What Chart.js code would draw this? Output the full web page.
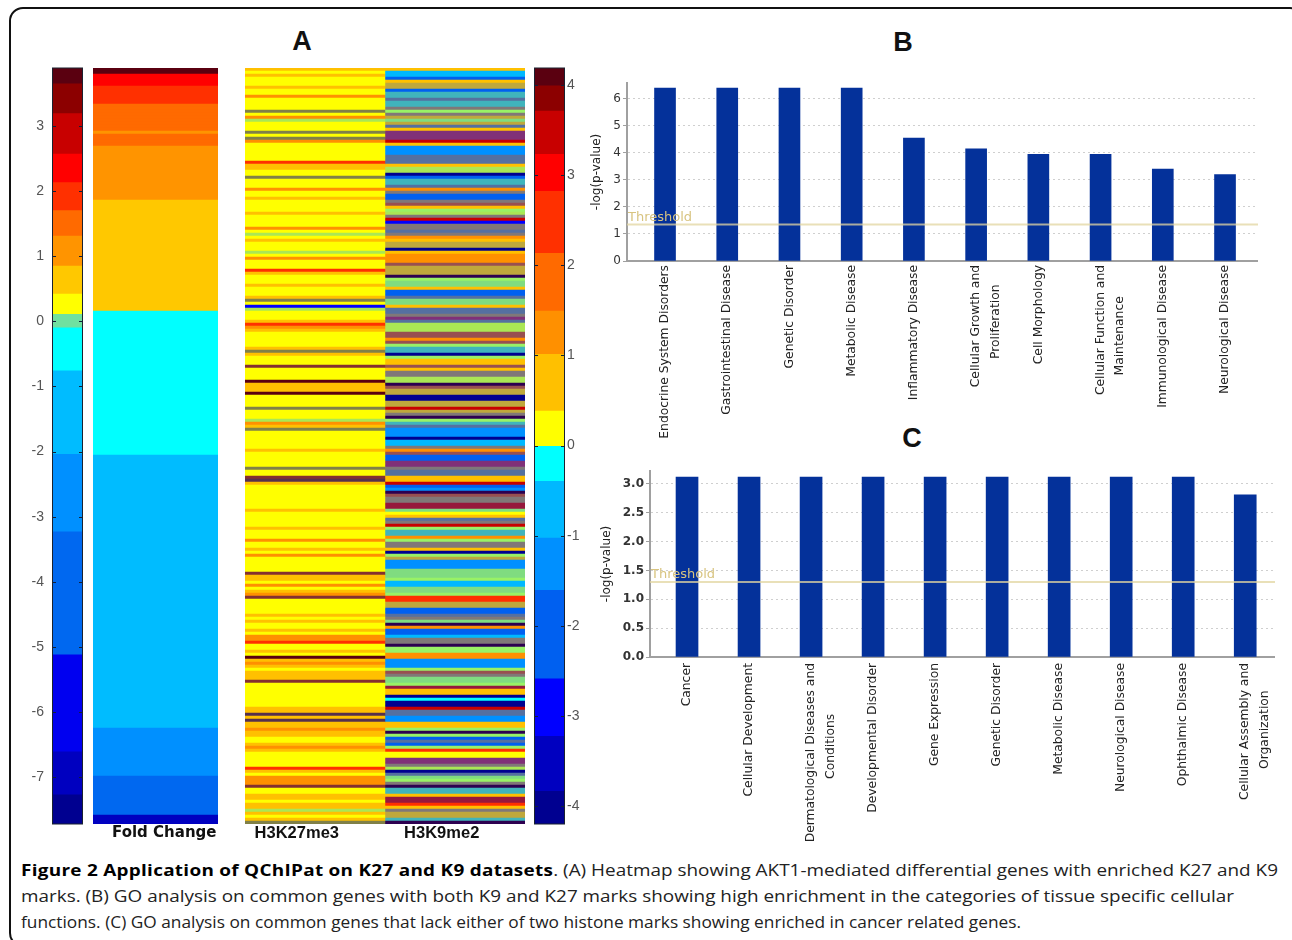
<!DOCTYPE html>
<html><head><meta charset="utf-8">
<script src="https://cdn.jsdelivr.net/npm/chart.js@4"></script>
<style>
html,body{margin:0;padding:0;background:#fff;overflow:hidden}
#page{position:relative;width:1292px;height:940px;overflow:hidden;background:#fff}
#frame{position:absolute;left:9px;top:7px;width:1295px;height:940px;border:2px solid #111;border-radius:14px;box-sizing:border-box}
canvas{position:absolute}
.hm{filter:blur(.6px)}
.ttl{position:absolute;font:bold 27px "Liberation Sans",Arial,sans-serif;color:#111;transform:translate(-50%,-50%)}
.cap{position:absolute;left:21px;font:16.8px "Open Sans",sans-serif;color:#222;white-space:nowrap;transform-origin:0 50%}
.cap b{color:#000;letter-spacing:.25px}
</style></head>
<body><div id="page">
<div id="frame"></div>
<div class="ttl" style="left:302px;top:41px">A</div>
<div class="ttl" style="left:903px;top:42px">B</div>
<div class="ttl" style="left:912px;top:438px">C</div>
<canvas id="cbL" width="66" height="790" style="left:20px;top:60px"></canvas>
<canvas id="fold" class="hm" width="135" height="790" style="left:88px;top:60px"></canvas>
<canvas id="heat" class="hm" width="290" height="790" style="left:240px;top:60px"></canvas>
<canvas id="cbR" width="60" height="790" style="left:525px;top:60px"></canvas>
<canvas id="barB" width="668" height="370" style="left:590px;top:75px"></canvas>
<canvas id="barC" width="675" height="385" style="left:600px;top:463px"></canvas>
<div class="cap" data-w="1257" style="top:858px"><b>Figure 2 Application of QChIPat on K27 and K9 datasets</b>. (A) Heatmap showing AKT1-mediated differential genes with enriched K27 and K9</div>
<div class="cap" data-w="1213" style="top:884px">marks. (B) GO analysis on common genes with both K9 and K27 marks showing high enrichment in the categories of tissue specific cellular</div>
<div class="cap" data-w="1000" style="top:910px">functions. (C) GO analysis on common genes that lack either of two histone marks showing enriched in cancer related genes.</div>
</div>
<script>
/* ---------- colour-bar levels (value edges, top to bottom) ---------- */
const leftEdges  = [3.89,3.66,3.2,2.58,2.14,1.71,1.32,0.86,0.43,0.12,-0.09,-0.75,-2.03,-3.22,-5.11,-6.6,-7.26,-7.72];
const leftColors = ['#5a0010','#8c0000','#c80000','#ff0000','#ff3000','#ff6a00','#ff9400','#ffc800','#ffff00','#70e0a0','#00ffff','#00bcff','#0090ff','#0068f0','#0000f0','#0000c0','#000090'];
const leftTicks  = [3,2,1,0,-1,-2,-3,-4,-5,-6,-7];
const rightEdges  = [4.19,4.0,3.72,3.24,2.83,2.14,1.5,1.02,0.39,0,-0.39,-1.02,-1.6,-2.58,-3.22,-3.83,-4.2];
const rightColors = ['#5a0010','#8c0000','#c80000','#ff0000','#ff3000','#ff6a00','#ff9000','#ffc000','#ffff00','#00ffff','#00b8ff','#0090ff','#0060f0','#0000ff','#0000c0','#000090'];
const rightTicks  = [4,3,2,1,0,-1,-2,-3,-4];

/* ---------- fold change per gene row ---------- */
const foldValues = [3.8,3.8,2.3,2.3,2.3,2.3,1.9,1.9,1.9,1.9,1.9,1.9,1.5,1.5,1.5,1.5,1.5,1.5,1.5,1.5,1.5,1.1,1.5,1.5,1.5,1.5,
1.1,1.1,1.1,1.1,1.1,1.1,1.1,1.1,1.1,1.1,1.1,1.1,1.1,1.1,1.1,1.1,1.1,1.1,
0.6,0.6,0.6,0.6,0.6,0.6,0.6,0.6,0.6,0.6,0.6,0.6,0.6,0.6,0.6,0.6,0.6,0.6,0.6,0.6,0.6,0.6,0.6,0.6,0.6,0.6,0.6,0.6,0.6,0.6,0.6,0.6,0.6,0.6,0.6,0.6,0.6,
-0.5,-0.5,-0.5,-0.5,-0.5,-0.5,-0.5,-0.5,-0.5,-0.5,-0.5,-0.5,-0.5,-0.5,-0.5,-0.5,-0.5,-0.5,-0.5,-0.5,-0.5,-0.5,-0.5,-0.5,-0.5,-0.5,-0.5,-0.5,-0.5,-0.5,-0.5,-0.5,-0.5,-0.5,-0.5,-0.5,-0.5,-0.5,-0.5,-0.5,-0.5,-0.5,-0.5,-0.5,-0.5,-0.5,-0.5,-0.5,
-1.4,-1.4,-1.4,-1.4,-1.4,-1.4,-1.4,-1.4,-1.4,-1.4,-1.4,-1.4,-1.4,-1.4,-1.4,-1.4,-1.4,-1.4,-1.4,-1.4,-1.4,-1.4,-1.4,-1.4,-1.4,-1.4,-1.4,-1.4,-1.4,-1.4,
-1.4,-1.4,-1.4,-1.4,-1.4,-1.4,-1.4,-1.4,-1.4,-1.4,-1.4,-1.4,-1.4,-1.4,-1.4,-1.4,-1.4,-1.4,-1.4,-1.4,-1.4,-1.4,-1.4,-1.4,-1.4,-1.4,-1.4,-1.4,-1.4,-1.4,
-1.4,-1.4,-1.4,-1.4,-1.4,-1.4,-1.4,-1.4,-1.4,-1.4,-1.4,-1.4,-1.4,-1.4,-1.4,-1.4,-1.4,-1.4,-1.4,-1.4,-1.4,-1.4,-1.4,-1.4,-1.4,-1.4,-1.4,-1.4,-1.4,-1.4,-1.4,
-2.5,-2.5,-2.5,-2.5,-2.5,-2.5,-2.5,-2.5,-2.5,-2.5,-2.5,-2.5,-2.5,-2.5,-2.5,-2.5,
-4,-4,-4,-4,-4,-4,-4,-4,-4,-4,-4,-4,-4,-7,-7,-7];

/* ---------- enrichment levels read per row ---------- */
const Y=0.2, A=0.7, O=1.3, R=2.5, RD=3.5, S=-0.7, M=-1.3, B=-2, N=-2.8, D=-3.9, DKB=4.1;
/* rows whose genes are too thin to resolve in the picture: several values share one row */
const OLV=[0.2,-3.9], LIM=[-0.7,0.2,0.2], BRN=[3.9,1.3,-3.9], DKG=[-3.9,-3.9,0.7,4.1],
      TE=[-0.7,-0.7,0.2,-2], GR=[-2,1.3], SL=[-2,-2,1.3], GN=[-0.7,0.2], PA=[-0.2,-0.2,0.2,0.2,0.7],
      GO=[0.7,0.7,0.7,-2], PU=[-2,3], BR=[1.3,3.5,-2], DP=[-3.9,4.1], PR=[3.5,3.5,3.5,-2];

const k27Values = [
A,Y,A,Y,Y,Y,A,Y,Y,O, Y,Y,Y,Y,OLV,Y,O,LIM,Y,Y,
Y,OLV,Y,OLV,O,Y,Y,Y,Y,Y, Y,R,A,A,Y,Y,OLV,Y,Y,Y,
O,Y,Y,A,Y,Y,Y,Y,A,Y, Y,Y,Y,O,Y,LIM,Y,A,Y,Y,
Y,LIM,Y,O,Y,Y,Y,R,A,Y, Y,Y,A,Y,Y,Y,A,OLV,Y,-3,
LIM,Y,Y,Y,A,R,O,A,Y,Y, Y,Y,Y,A,OLV,A,Y,Y,Y,BRN,
Y,Y,Y,Y,DKB,A,A,A,DKB,Y, Y,Y,Y,OLV,Y,Y,Y,LIM,O,A,
OLV,Y,Y,Y,Y,Y,Y,A,Y,Y, Y,Y,Y,OLV,Y,Y,BRN,DKG,A,Y,
Y,Y,Y,Y,Y,Y,Y,A,Y,Y, Y,Y,Y,A,Y,Y,Y,O,Y,Y,
A,Y,O,Y,Y,Y,Y,Y,BRN,A, A,Y,O,Y,A,O,BRN,Y,Y,Y,
Y,Y,A,Y,A,Y,Y,A,Y,O, O,R,Y,Y,A,Y,DKB,A,O,A,
Y,A,A,A,BRN,Y,Y,Y,Y,Y, Y,Y,Y,A,A,DKG,A,DKG,A,A,
O,A,A,Y,Y,A,O,A,Y,Y, Y,Y,Y,R,A,Y,O,O,O,BRN,
Y,Y,A,A,Y,A,A,LIM,A,Y, A,OLV];

const k9Values = [
A,S,S,B,A,GO,GO,B,TE,TE, SL,TE,TE,GR,PA,GR,GO,GN,GO,SL,
A,PU,PU,PU,RD,A,M,M,M,SL, SL,SL,A,LIM,LIM,D,B,TE,TE,SL,
O,GR,B,B,GR,BR,A,PA,LIM,GR, RD,N,GR,GR,SL,GR,O,A,GO,GO,
D,A,O,O,O,BR,GO,GO,GO,DP, PA,GN,GN,A,B,B,SL,GN,GN,A,
SL,SL,GR,PU,SL,LIM,LIM,LIM,BR,BR, O,BR,PA,TE,TE,D,PA,A,A,BR,
A,GR,GR,LIM,LIM,DP,BR,GO,GO,D, D,GO,GO,RD,GO,GR,DP,PA,TE,SL,
M,M,M,D,S,S,GR,O,BR,B, B,PU,PU,GR,SL,SL,A,A,RD,B,
M,DP,BR,GR,GR,PR,PR,GN,Y,A, SL,GR,RD,PA,TE,TE,O,PA,GR,GR,
A,D,PA,GO,M,M,M,GN,GN,GN, PA,S,S,GN,GN,PA,R,R,GO,GO,
B,B,SL,GR,GN,DP,O,B,B,S, GR,GR,DP,PA,PA,O,O,M,M,M,
PA,BR,GR,GN,GN,PA,PR,A,A,D, -0.2,D,D,RD,SL,SL,M,M,A,A,
PA,DP,PA,B,SL,B,PA,R,Y,Y, PU,PU,GR,LIM,D,SL,GN,PA,GR,DP,
TE,TE,A,PR,PR,R,A,GR,GO,GO, TE,DP];

/* ---------- bar panels ---------- */
const bCategories = [['Endocrine System Disorders'],['Gastrointestinal Disease'],['Genetic Disorder'],['Metabolic Disease'],['Inflammatory Disease'],['Cellular Growth and','Proliferation'],['Cell Morphology'],['Cellular Function and','Maintenance'],['Immunological Disease'],['Neurological Disease']];
const bValues = [6.4,6.4,6.4,6.4,4.55,4.15,3.95,3.95,3.4,3.2];
const bTicks = [0,1,2,3,4,5,6];
const bThreshold = 1.35;
const cCategories = [['Cancer'],['Cellular Development'],['Dermatological Diseases and','Conditions'],['Developmental Disorder'],['Gene Expression'],['Genetic Disorder'],['Metabolic Disease'],['Neurological Disease'],['Ophthalmic Disease'],['Cellular Assembly and','Organization']];
const cValues = [3.12,3.12,3.12,3.12,3.12,3.12,3.12,3.12,3.12,2.81];
const cTicks = [0,0.5,1,1.5,2,2.5,3];
const cThreshold = 1.3;
const heatLabels = ['H3K27me3','H3K9me2'];
const foldLabels = ['Fold Change'];

/* ---------- colour helpers ---------- */
function hexRgb(h){return [1,3,5].map(i=>parseInt(h.slice(i,i+2),16));}
function levelColor(v,edges,colors){
  for(let i=0;i<colors.length;i++){ if(v>=edges[i+1]) return colors[i]; }
  return colors[colors.length-1];
}
function cellColor(v,edges,colors){
  const list=Array.isArray(v)?v:[v];
  const rgb=[0,0,0];
  list.forEach(x=>{const c=hexRgb(levelColor(x,edges,colors));c.forEach((n,i)=>rgb[i]+=n);});
  return 'rgb('+rgb.map(n=>Math.round(n/list.length)).join(',')+')';
}

Chart.defaults.animation=false;
Chart.defaults.responsive=false;
Chart.defaults.plugins.legend.display=false;
Chart.defaults.plugins.tooltip.enabled=false;
Chart.defaults.font.family='"DejaVu Sans",sans-serif';

/* colour bars */
const barTicks={id:'barTicks',afterDraw(c){
  const y=c.scales.y,a=c.chartArea,g=c.ctx;
  g.save();g.strokeStyle='#10203a';g.lineWidth=1;g.beginPath();
  y.ticks.forEach(t=>{const p=Math.round(y.getPixelForValue(t.value))+.5;
    g.moveTo(a.left,p);g.lineTo(a.left+4,p);g.moveTo(a.right-4,p);g.lineTo(a.right,p);});
  g.stroke();
  g.strokeStyle='#1a2230';g.lineWidth=1;g.strokeRect(a.left+.5,a.top,a.right-a.left-1,a.bottom-a.top);
  g.restore();
}};
function colorBar(id,edges,colors,tickVals,pos,pad,axisW){
  new Chart(document.getElementById(id),{
    type:'bar',
    data:{labels:[''],datasets:colors.map((c,i)=>({data:[[edges[i+1],edges[i]]],backgroundColor:c,barPercentage:1,categoryPercentage:1,grouped:false,inflateAmount:.4}))},
    options:{layout:{padding:pad,autoPadding:false},
      scales:{x:{display:false},
        y:{position:pos,min:edges[edges.length-1],max:edges[0],
           afterBuildTicks:s=>{s.ticks=tickVals.map(value=>({value}));},
           afterFit:s=>{s.width=axisW;s.paddingTop=0;s.paddingBottom=0;},
           grid:{display:false,drawTicks:false},border:{display:false},
           ticks:{color:'#555',padding:pos==='left'?8:2,font:{size:14,family:'"Liberation Sans",sans-serif'},callback:v=>String(v)}}}},
    plugins:[barTicks]});
}
colorBar('cbL',leftEdges,leftColors,leftTicks,'left',{top:8,bottom:26,left:0,right:3},32);
colorBar('cbR',rightEdges,rightColors,rightTicks,'right',{top:8,bottom:26,left:9,right:0},20);

/* heat panels: one horizontal floating bar per gene row */
function heatPanel(id,cols,labels,tickPos,pad,tickFont){
  const rows=cols[0].map((_,i)=>i+1);
  new Chart(document.getElementById(id),{
    type:'bar',
    data:{labels:rows,datasets:cols.map((vals,k)=>({
      data:vals.map(()=>[k,k+1]),
      backgroundColor:vals.map(v=>cellColor(v,id==='fold'?leftEdges:rightEdges,id==='fold'?leftColors:rightColors)),
      barPercentage:1,categoryPercentage:1,grouped:false,inflateAmount:.2}))},
    options:{indexAxis:'y',layout:{padding:pad,autoPadding:false},
      scales:{y:{display:false},
        x:{min:0,max:cols.length,offset:false,
           afterBuildTicks:s=>{s.ticks=tickPos.map(value=>({value}));},
           afterFit:s=>{s.height=pad.axis;s.paddingLeft=0;s.paddingRight=0;},
           grid:{display:false,drawTicks:false},border:{display:false},
           ticks:{autoSkip:false,maxRotation:0,minRotation:0,padding:0,color:'#111',font:tickFont,
                  callback:(v,i)=>labels[i]}}}}});
}
heatPanel('fold',[foldValues],foldLabels,[0.57],{top:8,left:5,right:5,bottom:0,axis:26},{size:15,weight:'bold'});
heatPanel('heat',[k27Values,k9Values],heatLabels,[0.37,1.405],{top:8,left:5,right:5,bottom:0,axis:26},{size:16.5,weight:'bold',family:'"Liberation Sans",sans-serif'});

/* bar panels */
function thresholdPlugin(value){return {id:'threshold',afterDatasetsDraw(c){
  const g=c.ctx,a=c.chartArea,p=c.scales.y.getPixelForValue(value);
  g.save();
  g.strokeStyle='rgba(226,214,160,.75)';g.lineWidth=2;
  g.beginPath();g.moveTo(a.left,p);g.lineTo(a.right,p);g.stroke();
  g.fillStyle='#d8c480';g.font='13px "DejaVu Sans",sans-serif';g.textBaseline='bottom';
  g.fillText('Threshold',a.left+1,p-0.5);
  g.restore();
}};}
function barPanel(id,cats,vals,ticks,thr,o){
  const centre=cats.map((_,i)=>i);
  new Chart(document.getElementById(id),{
    type:'bar',
    data:{datasets:[{data:vals.map((v,i)=>({x:centre[i],y:v})),backgroundColor:'#04319a',barThickness:o.bar}]},
    options:{layout:{padding:{top:o.top,right:o.right},autoPadding:false},
      scales:{
        x:{type:'linear',min:o.xmin,max:o.xmax,offset:false,
           afterBuildTicks:s=>{s.ticks=centre.map(value=>({value}));},
           afterFit:s=>{s.height=o.xh;s.paddingLeft=0;s.paddingRight=0;},
           grid:{display:false,drawTicks:false},border:{color:'#a0a0a0',width:2},
           ticks:{autoSkip:false,minRotation:90,maxRotation:90,padding:o.pad,color:'#222',
                  font:{size:12.3,lineHeight:1.6},
                  callback:(v,i)=>{const l=cats[i];return l.length<2?l[0]:[l[0],l[1]+'\u00A0'.repeat(Math.round((l[0].length-l[1].length)*.75))];}}},
        y:{min:0,max:o.ymax,
           afterBuildTicks:s=>{s.ticks=ticks.map(value=>({value}));},
           afterFit:s=>{s.width=o.yw;s.paddingTop=0;s.paddingBottom=0;},
           title:{display:true,text:'-log(p-value)',color:'#222',font:{size:12},padding:0},
           grid:{color:'#cfcfcf',tickLength:4,tickColor:'#a0a0a0'},border:{color:'#a0a0a0',width:2,dash:[2,3]},
           ticks:{color:'#333',padding:2,font:o.tf,callback:v=>o.fmt(v)}}}},
    plugins:[thresholdPlugin(thr)]});
}
barPanel('barB',bCategories,bValues,bTicks,bThreshold,{bar:21,top:8,right:0,xmin:-0.611,xmax:9.53,xh:184,yw:37,ymax:6.59,pad:4,tf:{size:12},fmt:v=>String(v)});
barPanel('barC',cCategories,cValues,cTicks,cThreshold,{bar:22,top:8,right:0,xmin:-0.597,xmax:9.48,xh:191,yw:50,ymax:3.225,pad:6,tf:{size:12,weight:'bold'},fmt:v=>v.toFixed(1)});

/* caption lines fitted to their measured widths */
document.querySelectorAll('.cap').forEach(el=>{
  const w=el.getBoundingClientRect().width,t=+el.dataset.w;
  el.style.transform='scaleX('+(t/w)+')';
});
</script>
</body></html>
